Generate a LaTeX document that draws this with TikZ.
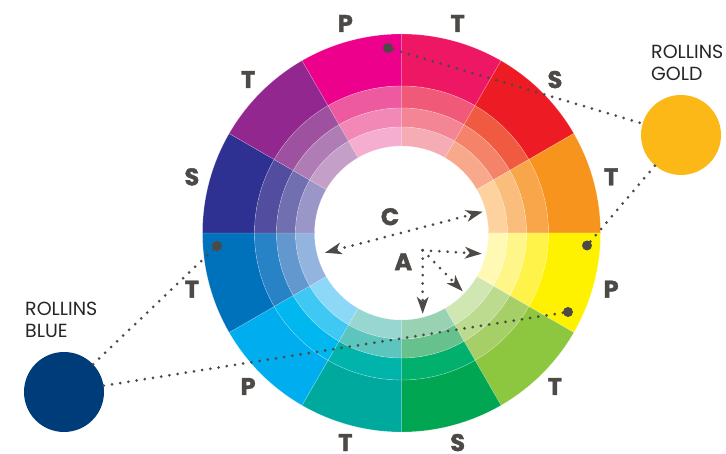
\documentclass[tikz,border=0pt]{standalone}
\usepackage{fontspec}
\setmainfont{Poppins}[BoldFeatures={FakeBold=1.6}]
\usetikzlibrary{arrows.meta}
\definecolor{ink}{HTML}{4D4946}
\definecolor{rgold}{HTML}{FCB817}
\definecolor{rblue}{HTML}{003C79}

\begin{document}
\begin{tikzpicture}[x=1pt, y=1pt,
  pts/.style={font=\fontsize{24}{24}\selectfont\bfseries, text=ink, inner sep=0},
  dotline/.style={ink, line width=3pt, line cap=round, dash pattern=on 0pt off 8.3pt},
  tip/.style={-{Stealth[length=17pt, width=12pt, inset=5pt, line width=0pt]}},
  spot/.style={circle, fill=ink, inner sep=0, minimum size=10pt},
  swatch/.style={circle, inner sep=0, minimum size=80pt},
  tag/.style={anchor=north west, align=left, inner sep=0, text=black!85, font=\fontsize{19}{21.7}\selectfont}]
  \useasboundingbox (0,0) rectangle (726,454);
  \begin{scope}[shift={(401.5,221)}]
    % wheel: 12 hues, outer ring and three tints
    \foreach \a/\ca/\cb/\cc/\cd in {90/EC008C/EE5A9F/F288B5/F5AECF, 60/ED1763/F05A78/F48595/F6ACB4,
        30/ED1C24/F05A40/F4836A/F8A98B, 0/F7941D/F9A64A/FBBD7C/FED29F,
        -30/FFF200/FFF34A/FFF68A/FFF9B5, -60/8DC63F/A6CF67/BCDB8F/D0E6B3,
        -90/00A651/00B06C/66C18D/98D2B3, -120/00A99D/00B4AC/5BC5BE/98D6D2,
        -150/00AEEF/00B7EF/40C8F4/8DD8F7, -180/0072BC/2882C6/6398CF/93B4DF,
        150/2E3192/524D9E/716FB0/9A96C8, 120/92278F/9D519E/B07CB5/C49FC8} {
      \definecolor{wa}{HTML}{\ca}
      \definecolor{wb}{HTML}{\cb}
      \definecolor{wc}{HTML}{\cc}
      \definecolor{wd}{HTML}{\cd}
      \foreach \ri/\ro/\cl in {147/199/wa, 125/147/wb, 106/125/wc, 87/106/wd}
        \filldraw[fill=\cl, draw=white, draw opacity=0.35, line width=0.4pt]
          (\a:\ro) arc[start angle=\a, end angle=\a+30, radius=\ro]
          -- (\a+30:\ri) arc[start angle=\a+30, end angle=\a, radius=\ri] -- cycle;
    }
    % scheme letters round the rim
    \foreach \a/\l in {105/P, 75/T, 45/S, 15/T, -15/P, -45/T, -75/S, -105/T,
        -135/P, -165/T, 165/S, 135/T}
      \node[pts] (lbl\a) at (\a:217) {\l};
  \end{scope}
  % C and A in the middle
  \node[pts] (clbl) at (390,237.3) {C};
  \node[pts] (albl) at (403.3,192.3) {A};
  \coordinate (cl) at (325,201.3);
  \coordinate (cr) at (482.7,242.3);
  \coordinate (a0) at (422.7,203.7);
  \coordinate (ar) at (481.7,200.3);
  \coordinate (ad) at (462.7,162.7);
  \coordinate (ab) at (422.7,140.3);
  \draw[dotline, {Stealth[length=17pt, width=12pt, inset=5pt, line width=0pt]}-{Stealth[length=17pt, width=12pt, inset=5pt, line width=0pt]}] (cl) -- (cr);
  \foreach \e in {ar, ad, ab}
    \draw[dotline, tip] (a0) -- (\e);
  % school colours
  \node[swatch, fill=rgold] (gold) at (681,319) {};
  \node[swatch, fill=rblue] (blue) at (64,62) {};
  \node[tag] (goldtag) at (651,409) {ROLLINS\\GOLD};
  \node[tag] (bluetag) at (25,152.3) {ROLLINS\\BLUE};
  \node[spot] (d1) at (388,406) {};
  \node[spot] (d2) at (587,208.5) {};
  \node[spot] (d3) at (217,208) {};
  \node[spot] (d4) at (568,142) {};
  \draw[dotline] (d1) -- (gold);
  \draw[dotline] (d2) -- (gold);
  \draw[dotline] (d3) -- (blue);
  \draw[dotline] (d4) -- (blue);
\end{tikzpicture}
\end{document}
